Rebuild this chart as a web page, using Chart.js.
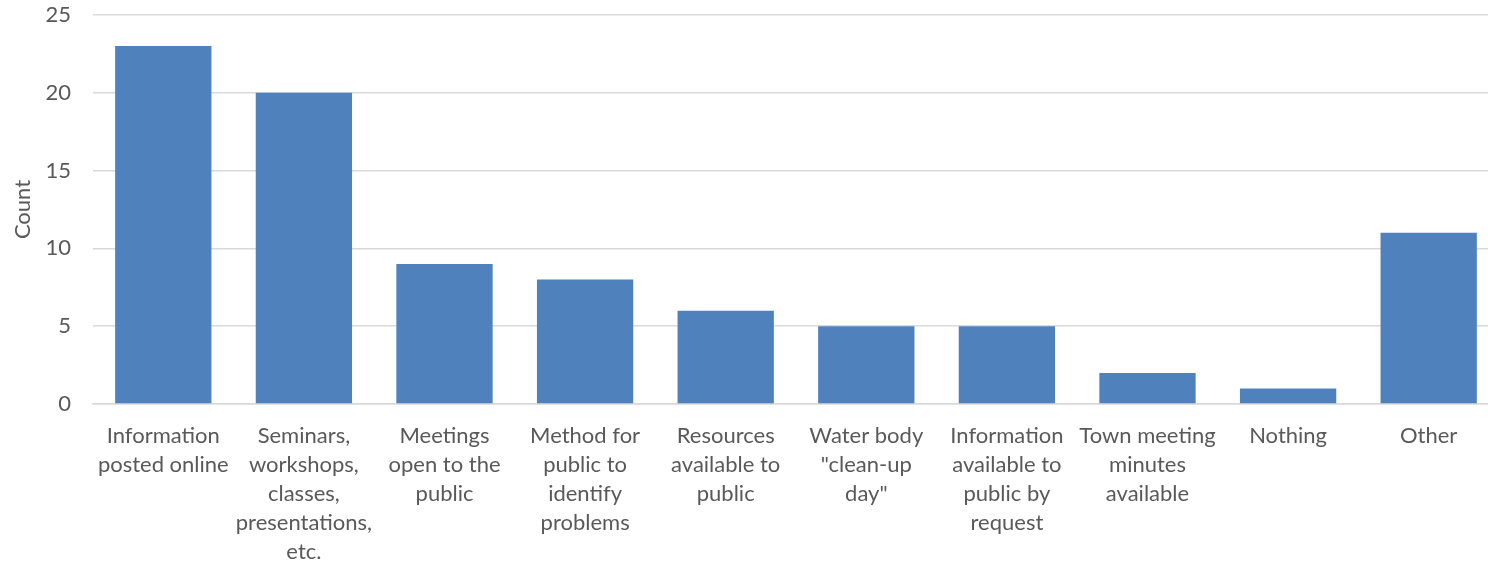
<!DOCTYPE html>
<html>
<head>
<meta charset="utf-8">
<script src="https://cdn.jsdelivr.net/npm/chart.js@4"></script>
<style>
html,body{margin:0;padding:0;background:#fff;overflow:hidden;}
#wrap{width:1500px;height:564px;position:relative;}
</style>
</head>
<body>
<div id="wrap"><canvas id="c"></canvas></div>
<script>
const categories = [
  ["Information", "posted online"],
  ["Seminars,", "workshops,", "classes,", "presentations,", "etc."],
  ["Meetings", "open to the", "public"],
  ["Method for", "public to", "identify", "problems"],
  ["Resources", "available to", "public"],
  ["Water body", "\"clean-up", "day\""],
  ["Information", "available to", "public by", "request"],
  ["Town meeting", "minutes", "available"],
  ["Nothing"],
  ["Other"]
];
const counts = [23, 20, 9, 8, 6, 5, 5, 2, 1, 11];
const yTicks = [0, 5, 10, 15, 20, 25];

const FONT = "Lato, 'Open Sans', sans-serif";
const TXT = "#595959";
const GRID = "#D9D9D9";

new Chart(document.getElementById('c'), {
  type: 'bar',
  data: {
    labels: categories,
    datasets: [{
      label: 'Count',
      data: counts,
      backgroundColor: '#4F81BD',
      borderWidth: 0,
      barPercentage: 0.685,
      categoryPercentage: 1.0
    }]
  },
  options: {
    responsive: true,
    maintainAspectRatio: false,
    animation: false,
    layout: { padding: { top: 0, right: 1, left: 0, bottom: 0 } },
    plugins: { legend: { display: false }, tooltip: { enabled: false } },
    scales: {
      x: {
        grid: { display: false, drawTicks: false },
        border: { display: true, color: GRID, width: 1.5 },
        ticks: {
          color: TXT,
          font: { family: FONT, size: 22, lineHeight: 1.32 },
          padding: 17,
          maxRotation: 0,
          autoSkip: false
        },
        afterFit: (s) => { s.height = 160; }
      },
      y: {
        min: 0, max: 25,
        afterBuildTicks: (s) => { s.ticks = yTicks.map(v => ({ value: v })); },
        grid: { color: GRID, lineWidth: 1.5, drawTicks: false },
        border: { display: false },
        ticks: {
          color: TXT,
          font: { family: FONT, size: 22 },
          padding: 22
        },
        title: {
          display: true,
          text: 'Count',
          color: TXT,
          font: { family: FONT, size: 22 },
          padding: { top: 10, bottom: 0 }
        },
        afterFit: (s) => { s.width = 93; s.paddingTop = 15; }
      }
    }
  }
});
</script>
</body>
</html>
